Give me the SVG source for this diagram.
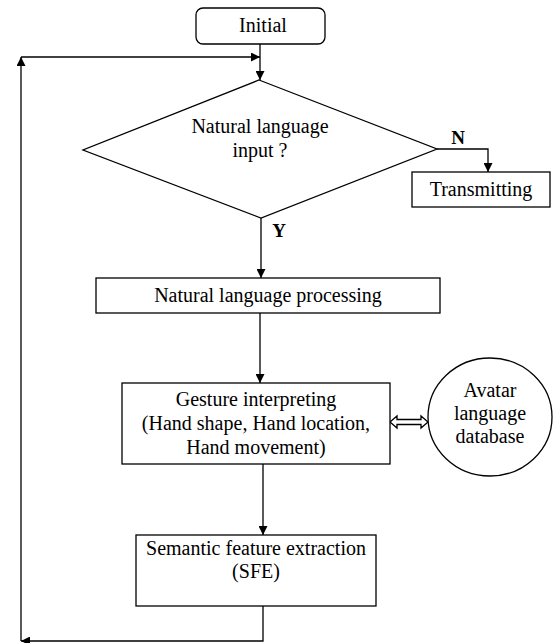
<svg xmlns="http://www.w3.org/2000/svg" width="554" height="643" viewBox="0 0 554 643">
<defs>
<style>
.box{fill:#fff;stroke:#000;stroke-width:1.3}
.ln{fill:none;stroke:#000;stroke-width:1.3}
.t{font-family:"Liberation Serif","Times New Roman",serif;font-size:20px;fill:#000;text-anchor:middle}
.lb{font-family:"Liberation Serif","Times New Roman",serif;font-size:19px;font-weight:bold;fill:#000;text-anchor:middle}
</style>
<marker id="ah" viewBox="0 0 10 10" refX="10" refY="5" markerWidth="9" markerHeight="9" markerUnits="userSpaceOnUse" orient="auto">
<path d="M0,0 L10,5 L0,10 Z" fill="#000"/>
</marker>
</defs>
<rect width="554" height="643" fill="#fff"/>
<g id="connectors">
<line class="ln" x1="260" y1="44" x2="260" y2="80" marker-end="url(#ah)"/>
<polyline class="ln" points="263,606 263,641 21,641" marker-end="url(#ah)"/>
<line class="ln" x1="21" y1="641" x2="21" y2="57" marker-end="url(#ah)"/>
<line class="ln" x1="21" y1="57" x2="260" y2="57" marker-end="url(#ah)"/>
<polyline class="ln" points="437,149 488,149 488,172" marker-end="url(#ah)"/>
<line class="ln" x1="261" y1="218" x2="261" y2="278" marker-end="url(#ah)"/>
<line class="ln" x1="260" y1="313" x2="260" y2="383" marker-end="url(#ah)"/>
<line class="ln" x1="263" y1="464" x2="263" y2="535" marker-end="url(#ah)"/>
<polygon class="box" stroke-width="1.2" points="390,422 397,416 397,419.5 421,419.5 421,416 428,422 421,428 421,424.5 397,424.5 397,428"/>
<text class="lb" x="458" y="144">N</text>
<text class="lb" x="279" y="237">Y</text>
</g>
<g id="initial">
<rect class="box" x="196" y="8" width="129" height="36" rx="7"/>
<text class="t" x="263" y="32">Initial</text>
</g>
<g id="decision">
<polygon class="box" points="259,80 437,149 261,218 83,150"/>
<text class="t" x="260" y="133">Natural language</text>
<text class="t" x="260" y="157">input ?</text>
</g>
<g id="transmitting">
<rect class="box" x="412" y="172" width="138" height="35"/>
<text class="t" x="481" y="196">Transmitting</text>
</g>
<g id="nlp">
<rect class="box" x="96" y="278" width="344" height="35"/>
<text class="t" x="268" y="302">Natural language processing</text>
</g>
<g id="gesture">
<rect class="box" x="122" y="383" width="268" height="81"/>
<text class="t" x="256" y="406">Gesture interpreting</text>
<text class="t" x="256" y="430">(Hand shape, Hand location,</text>
<text class="t" x="256" y="454">Hand movement)</text>
</g>
<g id="avatar">
<ellipse class="box" cx="490" cy="417" rx="62" ry="59"/>
<text class="t" x="490" y="397">Avatar</text>
<text class="t" x="490" y="420">language</text>
<text class="t" x="490" y="443">database</text>
</g>
<g id="sfe">
<rect class="box" x="136" y="535" width="240" height="71"/>
<text class="t" x="256" y="555">Semantic feature extraction</text>
<text class="t" x="256" y="578">(SFE)</text>
</g>
</svg>
